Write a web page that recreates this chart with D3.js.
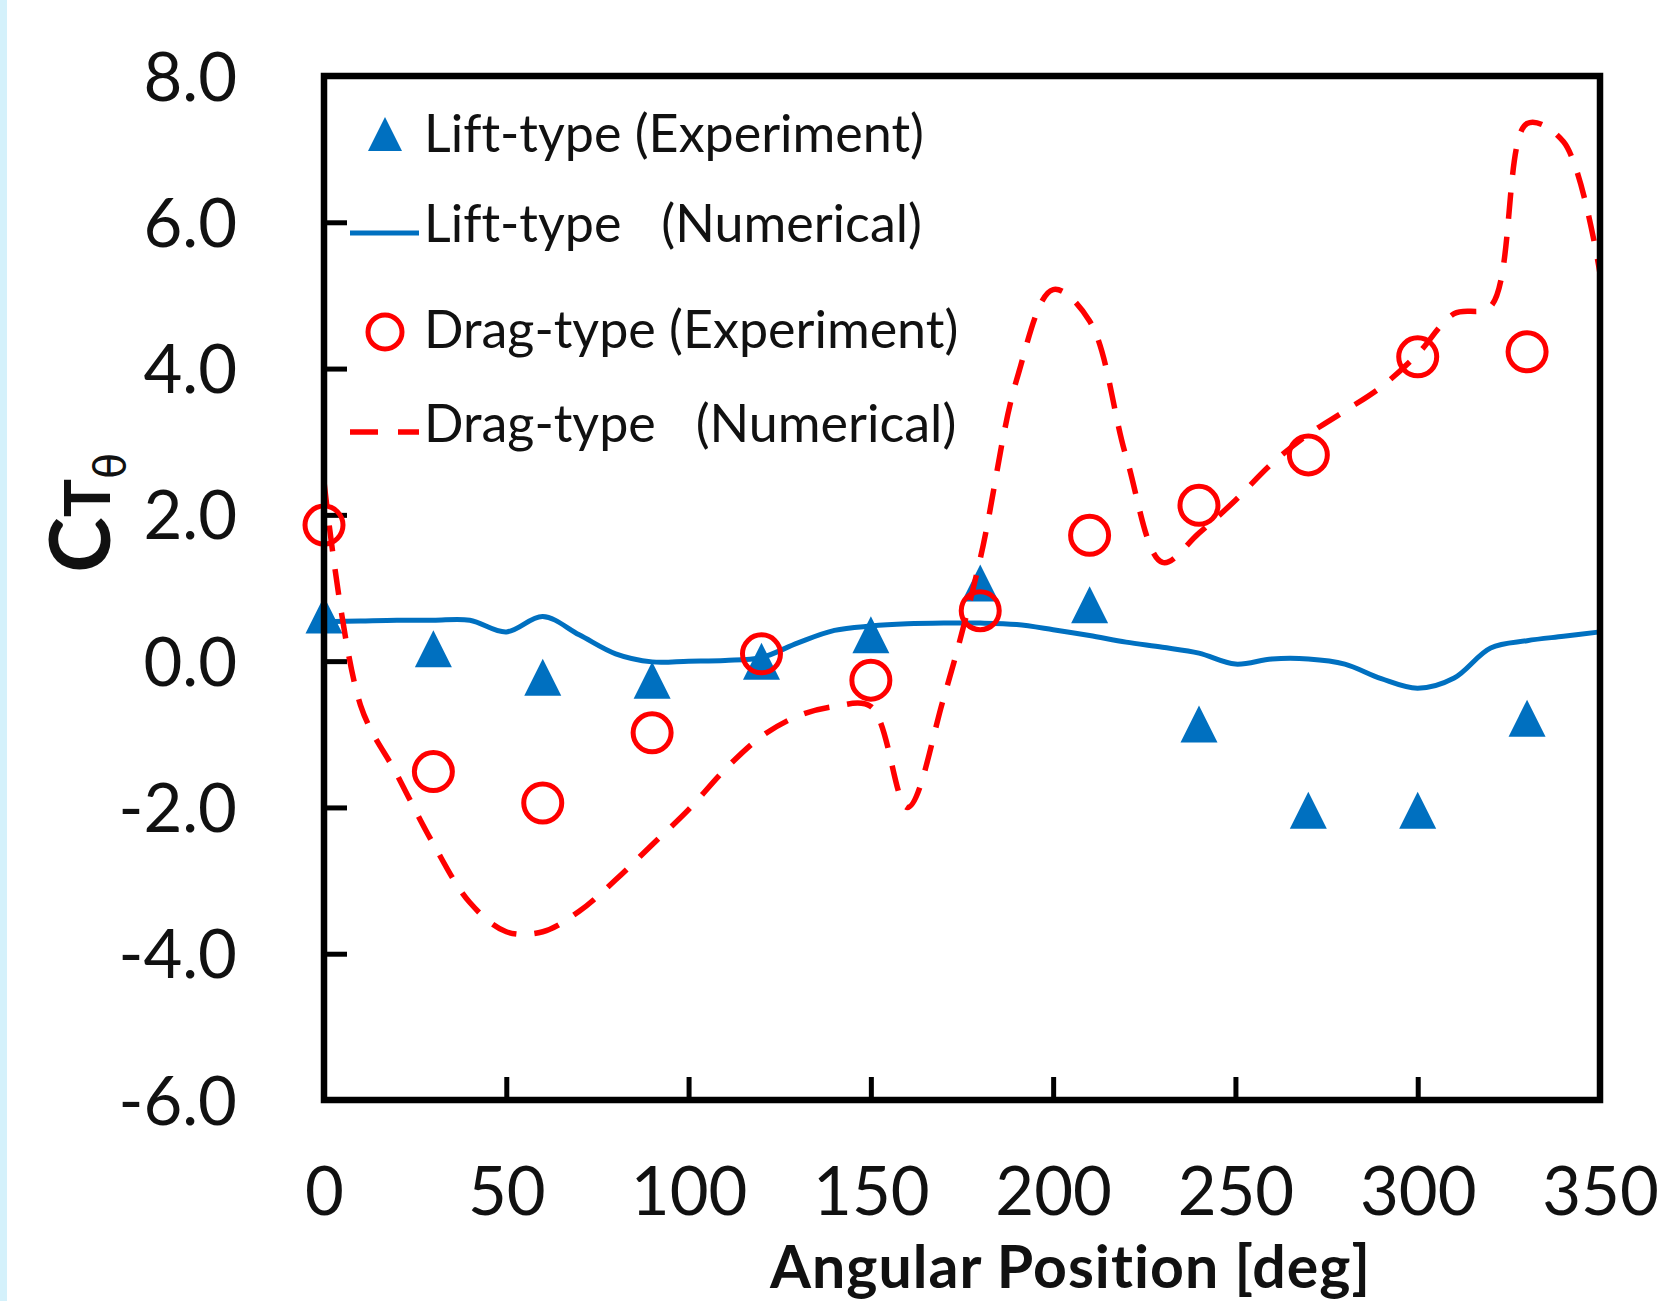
<!DOCTYPE html>
<html>
<head>
<meta charset="utf-8">
<script src="https://cdn.jsdelivr.net/npm/d3@7"></script>
<style>
  body { margin: 0; background: #fff; }
  svg text { font-family: Lato, "Open Sans", sans-serif; fill: #111; font-variant-ligatures: none; }
</style>
</head>
<body>
<div id="chart"></div>
<script>

// experiment angles (deg)
var expAngles = [0, 30, 60, 90, 120, 150, 180, 210, 240, 270, 300, 330];
var liftExp = [0.63, 0.17, -0.22, -0.26, 0.0, 0.36, 1.07, 0.77, -0.86, -2.04, -2.04, -0.78];
var dragExp = [1.86, -1.51, -1.94, -0.98, 0.10, -0.26, 0.69, 1.72, 2.13, 2.82, 4.16, 4.23];

// numerical angles (deg)
var numAngles = [0, 10, 20, 30, 40, 50, 60, 70, 80, 90, 100, 110, 120, 130, 140, 150, 160, 170,
                 180, 190, 200, 210, 220, 230, 240, 250, 260, 270, 280, 290, 300, 310, 320, 330, 340, 350];
var liftNum = [0.54, 0.55, 0.56, 0.56, 0.56, 0.40, 0.61, 0.36, 0.10, -0.01, 0.00, 0.01, 0.05, 0.25, 0.42, 0.48, 0.51, 0.52,
               0.52, 0.50, 0.43, 0.35, 0.26, 0.19, 0.11, -0.04, 0.03, 0.03, -0.04, -0.24, -0.37, -0.23, 0.18, 0.28, 0.34, 0.40];
var dragNum = [2.45, -0.60, -1.55, -2.50, -3.30, -3.70, -3.70, -3.42, -2.99, -2.51, -2.03, -1.48, -1.03, -0.75, -0.62, -0.62, -2.00, -0.50,
               1.40, 3.85, 5.08, 4.65, 2.80, 1.35, 1.75, 2.20, 2.70, 3.10, 3.42, 3.75, 4.20, 4.75, 4.85, 7.35, 7.10, 5.30];

var xTicks = [0, 50, 100, 150, 200, 250, 300, 350];
var yTicks = [-6, -4, -2, 0, 2, 4, 6, 8];

var legendLabels = ["Lift-type (Experiment)", "Lift-type   (Numerical)",
                    "Drag-type (Experiment)", "Drag-type   (Numerical)"];

var blue = "#0070c0", red = "#ff0000";

// plot frame
var W = 1658, H = 1301;
var plot = {left: 324, right: 1600, top: 76, bottom: 1100};

var x = d3.scaleLinear().domain([0, 350]).range([plot.left, plot.right]);
var y = d3.scaleLinear().domain([-6, 8]).range([plot.bottom, plot.top]);

var svg = d3.select("#chart").append("svg")
    .attr("width", W)
    .attr("height", H);

svg.append("rect").attr("width", W).attr("height", H).attr("fill", "#fff");
// light strip on the left edge
svg.append("rect").attr("x", 0).attr("y", 0).attr("width", 7).attr("height", H).attr("fill", "#d4f1fb");

// axes
var yAxis = d3.axisLeft(y)
    .tickValues(yTicks)
    .tickFormat(function(d) { return d.toFixed(1); })
    .tickSizeInner(-23)
    .tickSizeOuter(0)
    .tickPadding(87);

var xAxis = d3.axisBottom(x)
    .tickValues(xTicks)
    .tickFormat(function(d) { return d; })
    .tickSizeInner(-23)
    .tickSizeOuter(0)
    .tickPadding(67);

var gy = svg.append("g")
    .attr("transform", "translate(" + plot.left + ",0)")
    .call(yAxis);
var gx = svg.append("g")
    .attr("transform", "translate(0," + plot.bottom + ")")
    .call(xAxis);

[gx, gy].forEach(function(g) {
  g.select(".domain").remove();
  g.selectAll(".tick line").attr("stroke", "#000").attr("stroke-width", 5);
  g.selectAll(".tick text")
      .attr("font-family", "Lato, sans-serif")
      .attr("font-size", 67)
      .attr("fill", "#111");
});
gy.selectAll(".tick text").attr("dy", "0.36em");

// lines
var line = d3.line()
    .x(function(d) { return x(d[0]); })
    .y(function(d) { return y(d[1]); })
    .curve(d3.curveCatmullRom.alpha(0.5));

svg.append("path")
    .datum(d3.zip(numAngles, liftNum))
    .attr("d", line)
    .attr("fill", "none")
    .attr("stroke", blue)
    .attr("stroke-width", 5);

// triangle marker, box-centred on the point
function tri(s) {
  return "M0," + (-s / 2) + "L" + (s / 2) + "," + (s / 2) + "L" + (-s / 2) + "," + (s / 2) + "Z";
}

svg.selectAll(".liftpt")
    .data(d3.zip(expAngles, liftExp))
    .enter()
    .append("path")
    .attr("class", "liftpt")
    .attr("d", tri(37))
    .attr("transform", function(d) { return "translate(" + x(d[0]) + "," + y(d[1]) + ")"; })
    .attr("fill", blue);

svg.selectAll(".dragpt")
    .data(d3.zip(expAngles, dragExp))
    .enter()
    .append("circle")
    .attr("class", "dragpt")
    .attr("cx", function(d) { return x(d[0]); })
    .attr("cy", function(d) { return y(d[1]); })
    .attr("r", 19)
    .attr("fill", "none")
    .attr("stroke", red)
    .attr("stroke-width", 5);

svg.append("path")
    .datum(d3.zip(numAngles, dragNum))
    .attr("d", line)
    .attr("fill", "none")
    .attr("stroke", red)
    .attr("stroke-width", 5.5)
    .attr("stroke-dasharray", "26,18");

// frame
svg.append("rect")
    .attr("x", plot.left)
    .attr("y", plot.top)
    .attr("width", plot.right - plot.left)
    .attr("height", plot.bottom - plot.top)
    .attr("fill", "none")
    .attr("stroke", "#000")
    .attr("stroke-width", 6.5);

// legend
var legY = [151.7, 241.7, 348.3, 441.7];
var leg = svg.append("g");

leg.append("path").attr("d", tri(34)).attr("transform", "translate(385,134)").attr("fill", blue);
leg.append("line").attr("x1", 350).attr("x2", 419).attr("y1", 233).attr("y2", 233)
    .attr("stroke", blue).attr("stroke-width", 5);
leg.append("circle").attr("cx", 385).attr("cy", 332).attr("r", 17)
    .attr("fill", "none").attr("stroke", red).attr("stroke-width", 5);
leg.append("line").attr("x1", 350).attr("x2", 419).attr("y1", 432).attr("y2", 432)
    .attr("stroke", red).attr("stroke-width", 5.5).attr("stroke-dasharray", "28,20");

leg.selectAll("text.lg")
    .data(legendLabels)
    .enter()
    .append("text")
    .attr("class", "lg")
    .attr("x", 424)
    .attr("y", function(d, i) { return legY[i]; })
    .attr("font-size", 52)
    .style("white-space", "pre")
    .text(function(d) { return d; });

// axis titles
svg.append("text")
    .attr("x", 1070)
    .attr("y", 1288)
    .attr("text-anchor", "middle")
    .attr("font-size", 59)
    .attr("font-weight", "bold")
    .attr("textLength", 600)
    .attr("lengthAdjust", "spacing")
    .text("Angular Position [deg]");

var yt = svg.append("text")
    .attr("transform", "translate(110,513) rotate(-90)")
    .attr("text-anchor", "middle")
    .attr("font-weight", "bold");
yt.append("tspan").attr("font-size", 84).text("C");
yt.append("tspan").attr("font-size", 64).text("T");
yt.append("tspan").attr("font-size", 42).attr("dy", 15)
    .style("font-family", "'DejaVu Sans', sans-serif").attr("font-weight", "normal").text("θ");

</script>
</body>
</html>
